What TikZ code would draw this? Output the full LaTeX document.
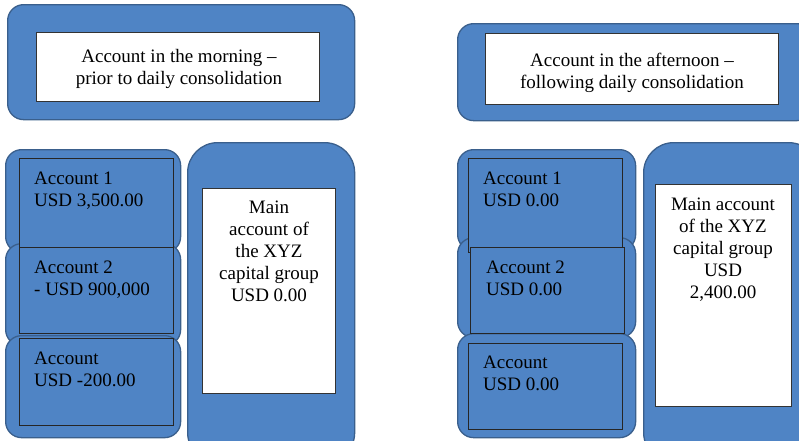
\documentclass[tikz,border=0pt]{standalone}
\usepackage{fontspec}
\setmainfont{Liberation Serif}
\newfontfamily\timesf{Liberation Serif}
\definecolor{boxblue}{RGB}{79,132,197}
\definecolor{boxedge}{RGB}{58,95,140}
\newcommand\tleft[1]{\begin{tabular}[t]{@{}l@{}}#1\end{tabular}}
\newcommand\tcent[1]{\begin{tabular}[t]{@{}c@{}}#1\end{tabular}}
\begin{document}
\begin{tikzpicture}[x=1pt,y=-1pt,
  panel/.style={draw=boxedge, fill=boxblue, line width=1.3pt, rounded corners=16pt, anchor=north west, inner sep=0pt},
  mainpanel/.style={panel, rounded corners=30pt},
  acct/.style={draw=black!85, fill=boxblue, line width=0.8pt, anchor=north west, inner sep=0pt},
  whitebox/.style={draw=black!80, fill=white, line width=0.8pt, anchor=north west, inner sep=0pt},
  txt/.style={inner sep=0pt, font=\timesf\fontsize{19}{22}\selectfont, text=black}]
\useasboundingbox (0,0) rectangle (799,440);
\clip (0,0) rectangle (799,440);
% headers
\node[panel, minimum width=347pt, minimum height=115pt] (h1) at (7,4) {};
\node[whitebox, minimum width=283pt, minimum height=69pt] (h1w) at (36,32) {};
\node[txt, anchor=base] (h1t) at (179,62) {\tcent{Account in the morning –\\prior to daily consolidation}};
\node[panel, minimum width=355pt, minimum height=97pt] (h2) at (457,23) {};
\node[whitebox, minimum width=293pt, minimum height=71pt] (h2w) at (485,33) {};
\node[txt, anchor=base] (h2t) at (632,66) {\tcent{Account in the afternoon –\\following daily consolidation}};
% left column
\node[panel, minimum width=175pt, minimum height=103pt] (lb1) at (5,149) {};
\node[panel, minimum width=175pt, minimum height=102pt] (lb2) at (5,243) {};
\node[panel, minimum width=175pt, minimum height=102pt] (lb3) at (5,335) {};
\node[acct, minimum width=154pt, minimum height=89pt] (lr1) at (19,158) {};
\node[acct, minimum width=154pt, minimum height=86pt] (lr2) at (19,247) {};
\node[acct, minimum width=154pt, minimum height=87pt] (lr3) at (19,338) {};
\node[txt, anchor=base west] (lt1) at (34,184) {\tleft{Account 1\\USD 3,500.00}};
\node[txt, anchor=base west] (lt2) at (34,273) {\tleft{Account 2\\- USD 900,000}};
\node[txt, anchor=base west] (lt3) at (34,364) {\tleft{Account\\USD -200.00}};
\node[mainpanel, minimum width=167pt, minimum height=320pt] (lm) at (187,142) {};
\node[whitebox, minimum width=133pt, minimum height=205pt] (lmw) at (202,188) {};
\node[txt, anchor=base] (lmt) at (269,213) {\tcent{Main\\account of\\the XYZ\\capital group\\USD 0.00}};
% right column
\node[panel, minimum width=178pt, minimum height=101pt] (rb1) at (457,149) {};
\node[panel, minimum width=178pt, minimum height=100pt] (rb2) at (457,237) {};
\node[panel, minimum width=178pt, minimum height=104pt] (rb3) at (457,333) {};
\node[acct, minimum width=154pt, minimum height=94pt] (rr1) at (468,158) {};
\node[acct, minimum width=154pt, minimum height=86pt] (rr2) at (470,247) {};
\node[acct, minimum width=154pt, minimum height=86pt] (rr3) at (468,343) {};
\node[txt, anchor=base west] (rt1) at (483,184) {\tleft{Account 1\\USD 0.00}};
\node[txt, anchor=base west] (rt2) at (486,273) {\tleft{Account 2\\USD 0.00}};
\node[txt, anchor=base west] (rt3) at (483,368) {\tleft{Account\\USD 0.00}};
\node[mainpanel, minimum width=175pt, minimum height=320pt] (rm) at (643,142) {};
\node[whitebox, minimum width=136pt, minimum height=222pt] (rmw) at (655,184) {};
\node[txt, anchor=base] (rmt) at (723,210) {\tcent{Main account\\of the XYZ\\capital group\\USD\\2,400.00}};
\end{tikzpicture}
\end{document}
